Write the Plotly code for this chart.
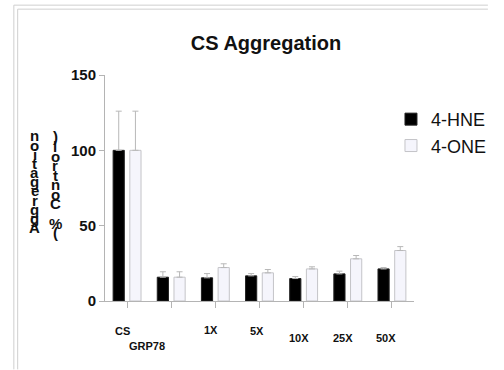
import plotly.graph_objects as go

# ---- data ----
categories = ["CS", "GRP78", "1X", "5X", "10X", "25X", "50X"]
hne_values = [100, 15.8, 15.4, 16.7, 14.9, 18.0, 21.3]
hne_errors = [26, 3.6, 2.8, 1.5, 1.3, 1.8, 0.9]
one_values = [100, 15.8, 22.2, 18.7, 21.3, 28.0, 33.5]
one_errors = [26, 3.6, 2.5, 2.2, 1.4, 2.2, 2.6]
series_names = ["4-HNE", "4-ONE"]
y_ticks = [0, 50, 100, 150]
title_text = "CS Aggregation"
y_title_col1 = "Aggregation"
y_title_col2 = "(% Control)"

# ---- style ----
FONT = "Liberation Sans, Arial, sans-serif"
W, H = 504, 370
ML, MR, MT, MB = 105, 77, 75, 68.5
PW, PH = W - ML - MR, H - MT - MB
AXIS_GREY = "#b4b4b4"
ERR_GREY = "#b8b8b8"

def px_to_paper(px, py):
    return (px - ML) / PW, (H - MB - py) / PH

fig = go.Figure()
fig.add_trace(go.Bar(
    x=categories, y=hne_values, name=series_names[0],
    marker=dict(color="#000000", line=dict(color="#222222", width=1)),
    error_y=dict(type="data", array=hne_errors, arrayminus=[0]*len(hne_errors),
                 symmetric=False, color=ERR_GREY, thickness=1, width=3),
))
fig.add_trace(go.Bar(
    x=categories, y=one_values, name=series_names[1],
    marker=dict(color="#f5f5fc", line=dict(color="#c4c4c8", width=1)),
    error_y=dict(type="data", array=one_errors, arrayminus=[0]*len(one_errors),
                 symmetric=False, color=ERR_GREY, thickness=1, width=3),
))

# x tick labels placed individually (staggered as in reference)
label_offsets = {  # (xshift px, yshift px from axis)
    "CS": (-5, -30), "GRP78": (-24, -45), "1X": (-4, -29), "5X": (-3, -30),
    "10X": (-5, -37), "25X": (-5, -37), "50X": (-6, -37),
}
annotations = []
for c in categories:
    dx, dy = label_offsets[c]
    annotations.append(dict(
        x=c, xref="x", y=0, yref="paper", text=f"<b>{c}</b>", showarrow=False,
        xshift=dx, yshift=dy, xanchor="center", yanchor="middle",
        font=dict(family=FONT, size=11, color="#111111"),
    ))

# stacked upright characters for the y-axis title (as in reference)
def stacked(text, px, py_top, step):
    chars = list(reversed(text))
    for i, ch in enumerate(chars):
        if ch == " ":
            continue
        xp, yp = px_to_paper(px, py_top + i * step)
        annotations.append(dict(
            x=xp, y=yp, xref="paper", yref="paper", text=f"<b>{ch}</b>",
            showarrow=False, xanchor="center", yanchor="middle",
            font=dict(family=FONT, size=15, color="#111111"),
        ))

stacked(y_title_col1, 32, 136, 9.2)
stacked(y_title_col2, 53, 137, 9.6)

# frame lines at top-left (as in reference)
shapes = []
for (x0, y0, x1, y1) in [(10, 5, 10, H), (14, 9, 14, H), (10, 5, W, 5), (14, 9, W, 9)]:
    a, b = px_to_paper(x0, y0)
    c, d = px_to_paper(x1, y1)
    shapes.append(dict(type="line", xref="paper", yref="paper", x0=a, y0=b, x1=c, y1=d,
                       line=dict(color="#cfcfcf", width=1)))

fig.update_layout(
    width=W, height=H,
    margin=dict(l=ML, r=MR, t=MT, b=MB, pad=0),
    paper_bgcolor="white", plot_bgcolor="white",
    barmode="group", bargap=0.243, bargroupgap=0.33,
    title=dict(text=f"<b>{title_text}</b>", x=(ML + PW / 2) / W, xanchor="center",
               y=1 - 43 / H, yanchor="middle",
               font=dict(family=FONT, size=20, color="#111111")),
    font=dict(family=FONT, color="#111111"),
    showlegend=True,
    legend=dict(x=px_to_paper(403, 0)[0], y=px_to_paper(0, 101)[1],
                xanchor="left", yanchor="top", bgcolor="rgba(0,0,0,0)",
                font=dict(family=FONT, size=18, color="#111111"),
                tracegroupgap=2, itemwidth=30),
    annotations=annotations,
    shapes=shapes,
)
fig.update_xaxes(
    range=[-0.5, len(categories) - 0.5], showticklabels=False,
    showline=True, linecolor=AXIS_GREY, linewidth=1,
    ticks="outside", ticklen=6, tickcolor=AXIS_GREY, showgrid=False, zeroline=False,
)
fig.update_yaxes(
    range=[0, 150], tickvals=y_ticks, ticktext=[f"<b>{v}</b>" for v in y_ticks],
    showline=True, linecolor=AXIS_GREY, linewidth=1,
    ticks="outside", ticklen=5, tickcolor=AXIS_GREY, showgrid=False, zeroline=False,
    tickfont=dict(family=FONT, size=15, color="#111111"),
)

fig.write_html("out.html", config={"displayModeBar": False},
               post_script="document.body.style.margin='0';document.body.style.overflow='hidden';")
